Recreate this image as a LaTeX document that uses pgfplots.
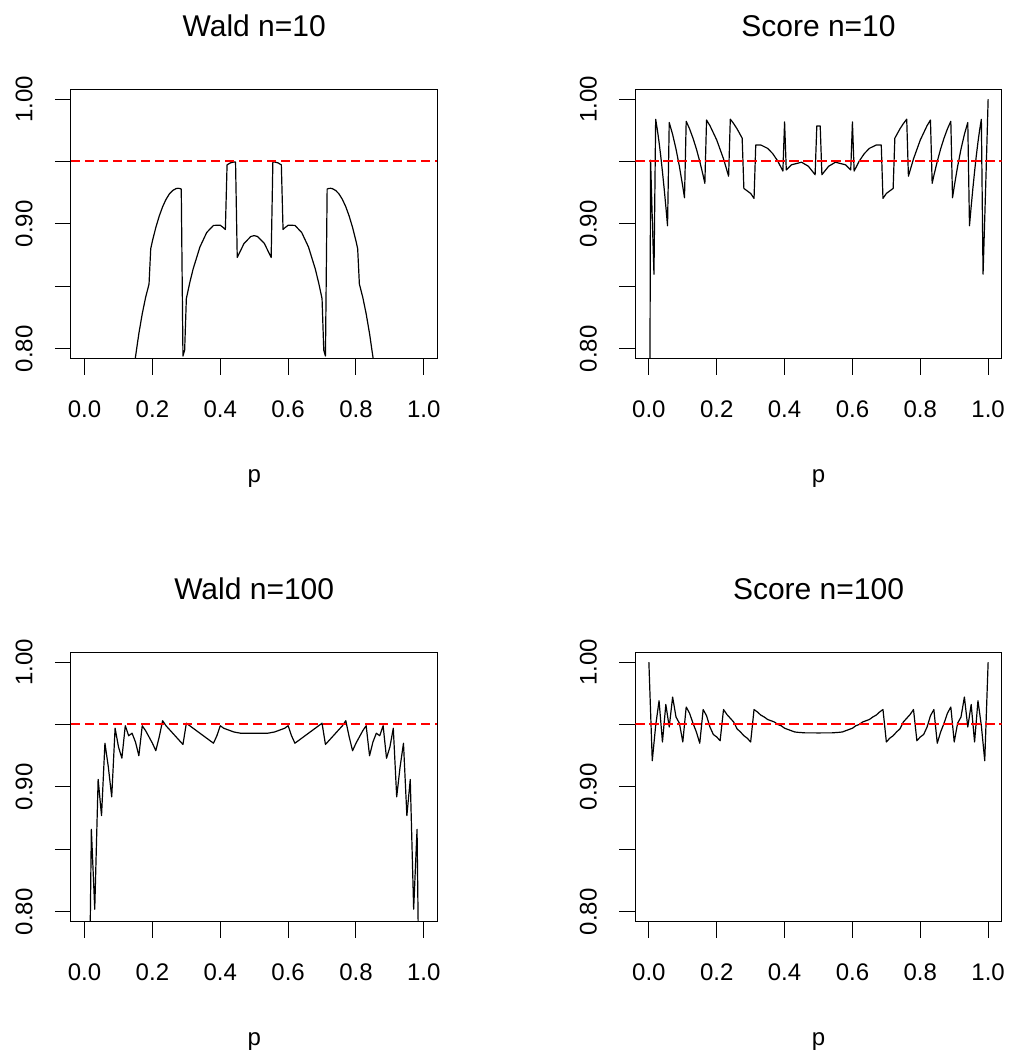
\documentclass[border=0pt]{standalone}
\usepackage{fontspec}
\setmainfont{Liberation Sans}
\usepackage{pgfplots}
\pgfplotsset{compat=1.18}
\definecolor{rred}{RGB}{255,0,0}
\pgfplotsset{
 rpanel/.style={
  scale only axis, width=183.2pt, height=134.8pt,
  xmin=-0.04, xmax=1.04, ymin=0.792, ymax=1.008,
  xtick={0,0.2,0.4,0.6,0.8,1}, xticklabels={0.0,0.2,0.4,0.6,0.8,1.0},
  ytick={0.8,0.85,0.9,0.95,1.0}, yticklabels={0.80,,0.90,,1.00},
  tick pos=left, tick align=outside, major tick length=8pt,
  tick style={black, line width=0.5pt},
  axis line style={black, line width=0.5pt},
  ticklabel style={font=\fontsize{12}{14}\selectfont},
  xticklabel style={anchor=base}, xticklabel shift=21.6pt,
  yticklabel style={rotate=90, anchor=base}, yticklabel shift=11.3pt,
  title style={font=\fontsize{15}{18}\selectfont, at={(axis description cs:0.5,1)}, anchor=base, yshift=20.5pt},
  xlabel=p,
  xlabel style={font=\fontsize{12}{14}\selectfont, at={(axis description cs:0.5,0)}, anchor=base, yshift=-61.8pt},
  clip=true,
 },
 curve/.style={black, line width=0.6pt, mark=none, line join=round},
 ref/.style={rred, line width=1pt, dash pattern=on 4.6pt off 2.4pt, mark=none},
}
\begin{document}
\begin{tikzpicture}
\fill[white] (0pt,0pt) rectangle (504pt,526.5pt);
\useasboundingbox (0pt,0pt) rectangle (504pt,526.5pt);

% Wald n=10
\begin{axis}[rpanel, at={(35.5pt,347.15pt)}, anchor=south west, title={Wald n=10}]
\addplot[curve] coordinates {
(0.140,0.772) (0.145,0.783) (0.150,0.7933) (0.160,0.8121) (0.170,0.8280) (0.180,0.8412) (0.190,0.8518)
(0.195,0.8801) (0.200,0.8863) (0.210,0.8971) (0.220,0.9062) (0.230,0.9137) (0.240,0.9196) (0.250,0.9240)
(0.260,0.9268) (0.270,0.9283) (0.275,0.9285) (0.280,0.9284) (0.285,0.9279) (0.290,0.7941) (0.295,0.7989)
(0.300,0.8401) (0.310,0.8528) (0.320,0.8639) (0.340,0.8815) (0.360,0.8931) (0.380,0.8988) (0.400,0.8989)
(0.410,0.8968) (0.415,0.8955) (0.420,0.9473) (0.430,0.9489) (0.440,0.9496) (0.445,0.9496) (0.450,0.8731)
(0.470,0.8843) (0.490,0.8899) (0.500,0.8906)
(0.510,0.8899) (0.530,0.8843) (0.550,0.8731) (0.555,0.9496) (0.560,0.9496) (0.570,0.9489) (0.580,0.9473)
(0.585,0.8955) (0.590,0.8968) (0.600,0.8989) (0.620,0.8988) (0.640,0.8931) (0.660,0.8815) (0.680,0.8639)
(0.690,0.8528) (0.700,0.8401) (0.705,0.7989) (0.710,0.7941) (0.715,0.9279) (0.720,0.9284) (0.725,0.9285)
(0.730,0.9283) (0.740,0.9268) (0.750,0.9240) (0.760,0.9196) (0.770,0.9137) (0.780,0.9062) (0.790,0.8971)
(0.800,0.8863) (0.805,0.8801) (0.810,0.8518) (0.820,0.8412) (0.830,0.8280) (0.840,0.8121) (0.850,0.7933)
(0.855,0.783) (0.860,0.772)
};
\addplot[ref] coordinates {(-0.04,0.95) (1.04,0.95)};
\end{axis}

% Score n=10
\begin{axis}[rpanel, at={(317.65pt,347.15pt)}, anchor=south west, title={Score n=10}]
\addplot[curve] coordinates {
(0,0.5) (0.005,0.9511) (0.010,0.9044) (0.015,0.8597) (0.020,0.9838) (0.025,0.9754) (0.030,0.9655)
(0.035,0.9543) (0.040,0.9418) (0.045,0.9284) (0.050,0.9139) (0.055,0.8985) (0.060,0.9812) (0.070,0.9717)
(0.080,0.9599) (0.090,0.9460) (0.100,0.9298) (0.105,0.9209) (0.110,0.9822) (0.120,0.9761) (0.130,0.9687)
(0.140,0.9601) (0.150,0.9500) (0.160,0.9387) (0.165,0.9325) (0.170,0.9832) (0.180,0.9787) (0.200,0.9672)
(0.220,0.9521) (0.235,0.9382) (0.240,0.9839) (0.250,0.9803) (0.260,0.9761) (0.275,0.9687) (0.280,0.9284)
(0.300,0.9244) (0.310,0.9204) (0.315,0.9632) (0.330,0.9632) (0.350,0.9605) (0.365,0.9563) (0.380,0.9503)
(0.395,0.9423) (0.400,0.9817) (0.405,0.9432) (0.420,0.9473) (0.450,0.9494) (0.470,0.9462) (0.490,0.9394)
(0.495,0.9785) (0.500,0.9785) (0.505,0.9785)
(0.510,0.9394) (0.530,0.9462) (0.550,0.9494) (0.580,0.9473) (0.595,0.9432) (0.600,0.9817) (0.605,0.9423)
(0.620,0.9503) (0.635,0.9563) (0.650,0.9605) (0.670,0.9632) (0.685,0.9632) (0.690,0.9204) (0.700,0.9244)
(0.720,0.9284) (0.725,0.9687) (0.740,0.9761) (0.750,0.9803) (0.760,0.9839) (0.765,0.9382) (0.780,0.9521)
(0.800,0.9672) (0.820,0.9787) (0.830,0.9832) (0.835,0.9325) (0.840,0.9387) (0.850,0.9500) (0.860,0.9601)
(0.870,0.9687) (0.880,0.9761) (0.890,0.9822) (0.895,0.9209) (0.900,0.9298) (0.910,0.9460) (0.920,0.9599)
(0.930,0.9717) (0.940,0.9812) (0.945,0.8985) (0.950,0.9139) (0.955,0.9284) (0.960,0.9418) (0.965,0.9543)
(0.970,0.9655) (0.975,0.9754) (0.980,0.9838) (0.985,0.8597) (0.990,0.9044) (0.995,0.9511) (1.000,1.0000)
};
\addplot[ref] coordinates {(-0.04,0.95) (1.04,0.95)};
\end{axis}

% Wald n=100
\begin{axis}[rpanel, at={(35.5pt,65.65pt)}, anchor=south west, title={Wald n=100}]
\addplot[curve] coordinates {
(0.01,0.634) (0.02,0.866) (0.03,0.802) (0.04,0.906) (0.05,0.877) (0.06,0.935) (0.07,0.916) (0.08,0.892)
(0.09,0.947) (0.10,0.932) (0.11,0.923) (0.12,0.949) (0.13,0.941) (0.14,0.943) (0.15,0.936) (0.16,0.925)
(0.17,0.949) (0.18,0.945) (0.19,0.940) (0.20,0.935) (0.21,0.929) (0.22,0.940) (0.23,0.953) (0.24,0.949)
(0.25,0.946) (0.26,0.943) (0.27,0.940) (0.28,0.937) (0.29,0.934) (0.30,0.951) (0.31,0.949) (0.32,0.947)
(0.33,0.945) (0.34,0.943) (0.35,0.941) (0.36,0.939) (0.37,0.937) (0.38,0.935) (0.39,0.941) (0.40,0.949)
(0.41,0.947) (0.42,0.946) (0.43,0.945) (0.44,0.944) (0.45,0.9435) (0.46,0.943) (0.47,0.943) (0.48,0.943)
(0.49,0.943) (0.50,0.943)
(0.51,0.943) (0.52,0.943) (0.53,0.943) (0.54,0.943) (0.55,0.9435) (0.56,0.944) (0.57,0.945) (0.58,0.946)
(0.59,0.947) (0.60,0.949) (0.61,0.941) (0.62,0.935) (0.63,0.937) (0.64,0.939) (0.65,0.941) (0.66,0.943)
(0.67,0.945) (0.68,0.947) (0.69,0.949) (0.70,0.951) (0.71,0.934) (0.72,0.937) (0.73,0.940) (0.74,0.943)
(0.75,0.946) (0.76,0.949) (0.77,0.953) (0.78,0.940) (0.79,0.929) (0.80,0.935) (0.81,0.940) (0.82,0.945)
(0.83,0.949) (0.84,0.925) (0.85,0.936) (0.86,0.943) (0.87,0.941) (0.88,0.949) (0.89,0.923) (0.90,0.932)
(0.91,0.947) (0.92,0.892) (0.93,0.916) (0.94,0.935) (0.95,0.877) (0.96,0.906) (0.97,0.802) (0.98,0.866)
(0.99,0.634)
};
\addplot[ref] coordinates {(-0.04,0.95) (1.04,0.95)};
\end{axis}

% Score n=100
\begin{axis}[rpanel, at={(317.65pt,65.65pt)}, anchor=south west, title={Score n=100}]
\addplot[curve] coordinates {
(0.00,1.000) (0.01,0.921) (0.02,0.949) (0.03,0.969) (0.04,0.936) (0.05,0.966) (0.06,0.948) (0.07,0.972)
(0.08,0.956) (0.09,0.951) (0.10,0.936) (0.11,0.964) (0.12,0.959) (0.13,0.951) (0.14,0.944) (0.15,0.935)
(0.16,0.962) (0.17,0.957) (0.18,0.948) (0.19,0.942) (0.20,0.940) (0.21,0.937) (0.22,0.962) (0.23,0.958)
(0.24,0.955) (0.25,0.952) (0.26,0.9465) (0.27,0.944) (0.28,0.941) (0.29,0.939) (0.30,0.936) (0.31,0.962)
(0.32,0.960) (0.33,0.9575) (0.34,0.956) (0.35,0.954) (0.36,0.953) (0.37,0.952) (0.38,0.950) (0.39,0.949)
(0.40,0.947) (0.41,0.946) (0.42,0.945) (0.43,0.944) (0.44,0.9437) (0.45,0.9435) (0.46,0.9433) (0.47,0.9433)
(0.48,0.9433) (0.49,0.9433) (0.50,0.9432)
(0.51,0.9433) (0.52,0.9433) (0.53,0.9433) (0.54,0.9433) (0.55,0.9435) (0.56,0.9437) (0.57,0.944) (0.58,0.945)
(0.59,0.946) (0.60,0.947) (0.61,0.949) (0.62,0.950) (0.63,0.952) (0.64,0.953) (0.65,0.954) (0.66,0.956)
(0.67,0.9575) (0.68,0.960) (0.69,0.962) (0.70,0.936) (0.71,0.939) (0.72,0.941) (0.73,0.944) (0.74,0.9465)
(0.75,0.952) (0.76,0.955) (0.77,0.958) (0.78,0.962) (0.79,0.937) (0.80,0.940) (0.81,0.942) (0.82,0.948)
(0.83,0.957) (0.84,0.962) (0.85,0.935) (0.86,0.944) (0.87,0.951) (0.88,0.959) (0.89,0.964) (0.90,0.936)
(0.91,0.951) (0.92,0.956) (0.93,0.972) (0.94,0.948) (0.95,0.966) (0.96,0.936) (0.97,0.969) (0.98,0.949)
(0.99,0.921) (1.00,1.000)
};
\addplot[ref] coordinates {(-0.04,0.95) (1.04,0.95)};
\end{axis}
\end{tikzpicture}
\end{document}
